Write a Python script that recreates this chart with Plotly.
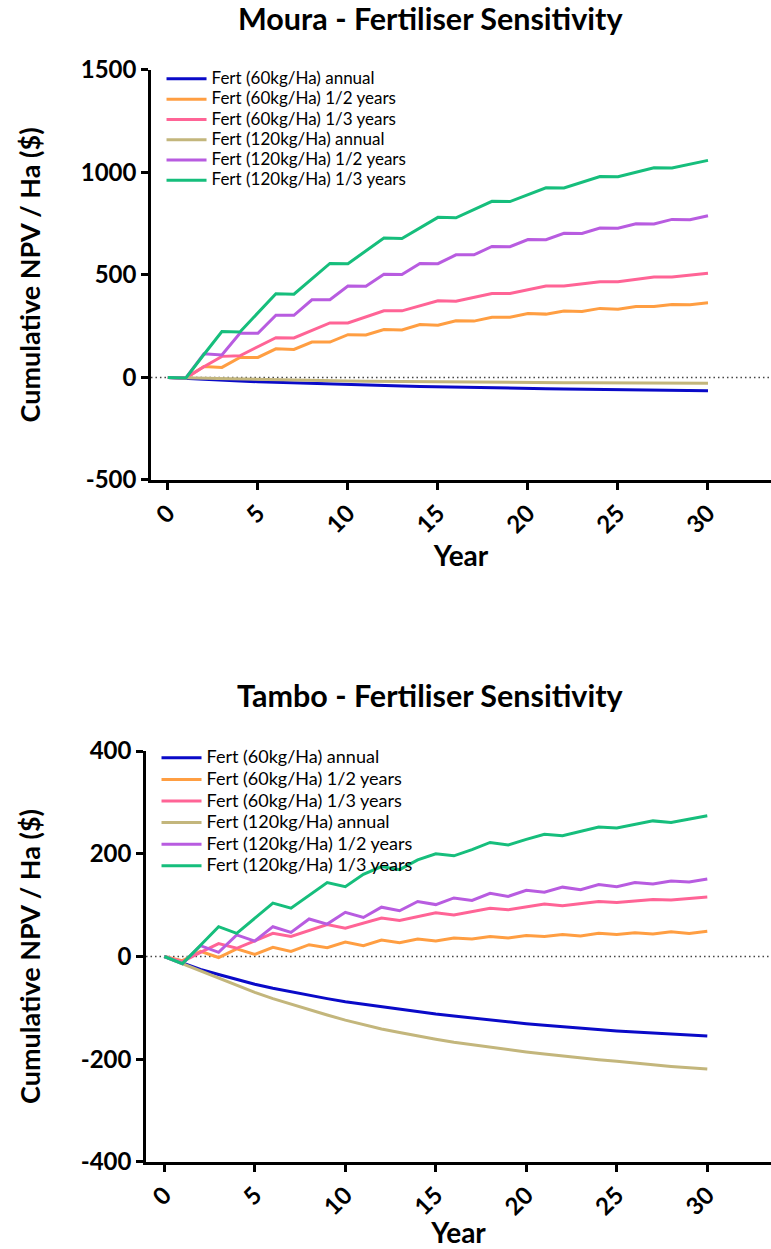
import plotly.graph_objects as go

# ---------------- data ----------------
years = list(range(31))
series_names = [
    "Fert (60kg/Ha) annual",
    "Fert (60kg/Ha) 1/2 years",
    "Fert (60kg/Ha) 1/3 years",
    "Fert (120kg/Ha) annual",
    "Fert (120kg/Ha) 1/2 years",
    "Fert (120kg/Ha) 1/3 years",
]
series_colors = ["#0A0AC8", "#FF9E42", "#FF6496", "#C3B67C", "#B85CE0", "#16BE7C"]

x_ticks = [0, 5, 10, 15, 20, 25, 30]
moura_y_ticks = [-500, 0, 500, 1000, 1500]
moura_y_labels = ["-500", "0", "500", "1000", "1500"]
tambo_y_ticks = [-400, -200, 0, 200, 400]
tambo_y_labels = ["-400", "-200", "0", "200", "400"]

moura_60_annual = [0, -5, -9, -13, -17, -21, -24, -27, -30, -33, -36, -38, -40, -42, -44, -46,
                   -47, -49, -50, -52, -53, -55, -56, -57, -59, -60, -61, -62, -63, -64, -65]
moura_60_half = [0, -2, 54, 49, 98, 98, 140, 137, 173, 173, 209, 207, 234, 232, 258, 255,
                 277, 275, 294, 294, 312, 309, 324, 322, 337, 333, 346, 346, 356, 355, 364]
moura_60_third = [0, -2, 52, 103, 106, 150, 194, 193, 230, 266, 266, 296, 325, 325, 350, 374,
                  372, 391, 410, 410, 428, 446, 446, 457, 467, 467, 478, 490, 490, 499, 508]
moura_120_annual = [0, -2, -4, -6, -8, -10, -11, -13, -14, -15, -17, -18, -19, -20, -21, -22,
                    -23, -23, -24, -24, -25, -25, -26, -26, -26, -27, -27, -27, -28, -28, -28]
moura_120_half = [0, -2, 116, 110, 216, 216, 304, 303, 379, 379, 446, 445, 503, 502, 556, 555,
                  598, 598, 639, 638, 673, 672, 703, 702, 729, 728, 750, 749, 771, 769, 789]
moura_120_third = [0, -2, 112, 224, 222, 316, 408, 406, 481, 556, 555, 618, 680, 678, 730, 781,
                   779, 819, 859, 858, 892, 925, 924, 953, 980, 979, 1002, 1023, 1022, 1041, 1059]

tambo_60_annual = [0, -13, -25, -35, -45, -54, -62, -69, -76, -82, -88, -93, -98, -103, -107, -112,
                   -116, -120, -124, -127, -131, -134, -137, -140, -142, -145, -147, -149, -151, -153, -155]
tambo_60_half = [0, -8, 10, -2, 15, 4, 18, 10, 23, 17, 28, 21, 32, 27, 34, 30,
                 36, 34, 39, 36, 41, 39, 43, 40, 45, 43, 46, 44, 48, 45, 49]
tambo_60_third = [0, -10, 8, 25, 16, 31, 45, 39, 51, 62, 55, 65, 75, 70, 78, 85,
                  81, 88, 94, 91, 97, 102, 99, 103, 107, 105, 108, 111, 110, 113, 116]
tambo_120_annual = [0, -14, -29, -43, -57, -70, -82, -93, -104, -114, -124, -133, -141, -148, -155, -161,
                    -167, -172, -177, -182, -186, -190, -194, -198, -201, -204, -208, -211, -214, -217, -219]
tambo_120_half = [0, -14, 21, 8, 42, 30, 58, 47, 73, 63, 86, 76, 96, 89, 107, 101,
                  114, 109, 123, 117, 129, 125, 135, 130, 140, 136, 144, 141, 147, 145, 151]
tambo_120_third = [0, -14, 22, 58, 45, 75, 104, 94, 119, 144, 136, 160, 175, 169, 188, 200,
                   196, 208, 222, 217, 228, 238, 235, 244, 252, 250, 257, 264, 261, 268, 274]

moura_series = [moura_60_annual, moura_60_half, moura_60_third,
                moura_120_annual, moura_120_half, moura_120_third]
tambo_series = [tambo_60_annual, tambo_60_half, tambo_60_third,
                tambo_120_annual, tambo_120_half, tambo_120_third]

FONT = "Lato"

fig = go.Figure()

for name, color, vals in zip(series_names, series_colors, moura_series):
    fig.add_trace(go.Scatter(
        x=years, y=vals, mode="lines",
        name='<span style="font-size:17px">' + name + '</span>',
        line=dict(color=color, width=3),
        xaxis="x", yaxis="y", legend="legend",
    ))
for name, color, vals in zip(series_names, series_colors, tambo_series):
    fig.add_trace(go.Scatter(
        x=years, y=vals, mode="lines",
        name='<span style="font-size:18px">' + name + '</span>',
        line=dict(color=color, width=3),
        xaxis="x2", yaxis="y2", legend="legend2",
    ))

axis_common = dict(
    showline=True, linecolor="black", linewidth=2.5,
    ticks="outside", ticklen=7, tickwidth=2.5, tickcolor="black",
    showgrid=False, zeroline=False, automargin=False,
    tickfont=dict(family=FONT, size=24, color="black", weight="bold"),
)
ytitle_font = dict(family=FONT, size=27, weight="bold", color="black")
xtitle_font = dict(family=FONT, size=28, weight="bold", color="black")

fig.update_layout(
    width=771, height=1249,
    margin=dict(l=0, r=0, t=0, b=0, autoexpand=False),
    paper_bgcolor="white", plot_bgcolor="white",
    font=dict(family=FONT, color="black"),
    xaxis=dict(domain=[0.1958, 1.0], range=[-0.94, 33.5], tickvals=x_ticks,
               tickangle=-45, anchor="y",
               title=dict(text="Year", font=xtitle_font, standoff=0),
               **axis_common),
    yaxis=dict(domain=[0.6157, 0.944], range=[-500, 1500], tickvals=moura_y_ticks,
               ticktext=moura_y_labels, anchor="x",
               title=dict(text="Cumulative NPV / Ha ($)", font=ytitle_font, standoff=33),
               **axis_common),
    xaxis2=dict(domain=[0.1894, 1.0], range=[-1.01, 33.52], tickvals=x_ticks,
                tickangle=-45, anchor="y2",
                title=dict(text="Year", font=xtitle_font, standoff=0),
                **axis_common),
    yaxis2=dict(domain=[0.0697, 0.3987], range=[-400, 400], tickvals=tambo_y_ticks,
                ticktext=tambo_y_labels, anchor="x2",
                title=dict(text="Cumulative NPV / Ha ($)", font=ytitle_font, standoff=33),
                **axis_common),
    legend=dict(x=0.2095, y=0.949, xanchor="left", yanchor="top",
                font=dict(family=FONT, size=13.3, color="black"),
                bgcolor="rgba(0,0,0,0)", itemwidth=40, tracegroupgap=0),
    legend2=dict(x=0.203, y=0.4059, xanchor="left", yanchor="top",
                 font=dict(family=FONT, size=14.3, color="black"),
                 bgcolor="rgba(0,0,0,0)", itemwidth=40, tracegroupgap=0),
    showlegend=True,
    annotations=[
        dict(text="Moura - Fertiliser Sensitivity", x=0.558, y=1 - 18 / 1249,
             xref="paper", yref="paper", xanchor="center", yanchor="middle",
             showarrow=False, font=dict(family=FONT, size=30.5, weight="bold", color="black")),
        dict(text="Tambo - Fertiliser Sensitivity", x=0.558, y=1 - 695 / 1249,
             xref="paper", yref="paper", xanchor="center", yanchor="middle",
             showarrow=False, font=dict(family=FONT, size=30.5, weight="bold", color="black")),
    ],
    shapes=[
        dict(type="line", xref="x domain", yref="y", x0=0, x1=1, y0=0, y1=0,
             line=dict(color="#444444", width=1.5, dash="1.5px,3px"), layer="below"),
        dict(type="line", xref="x2 domain", yref="y2", x0=0, x1=1, y0=0, y1=0,
             line=dict(color="#444444", width=1.5, dash="1.5px,3px"), layer="below"),
    ],
)

fig.write_html(
    "out.html",
    config={"displayModeBar": False},
    post_script="document.body.style.margin='0';document.body.style.overflow='hidden';",
)
